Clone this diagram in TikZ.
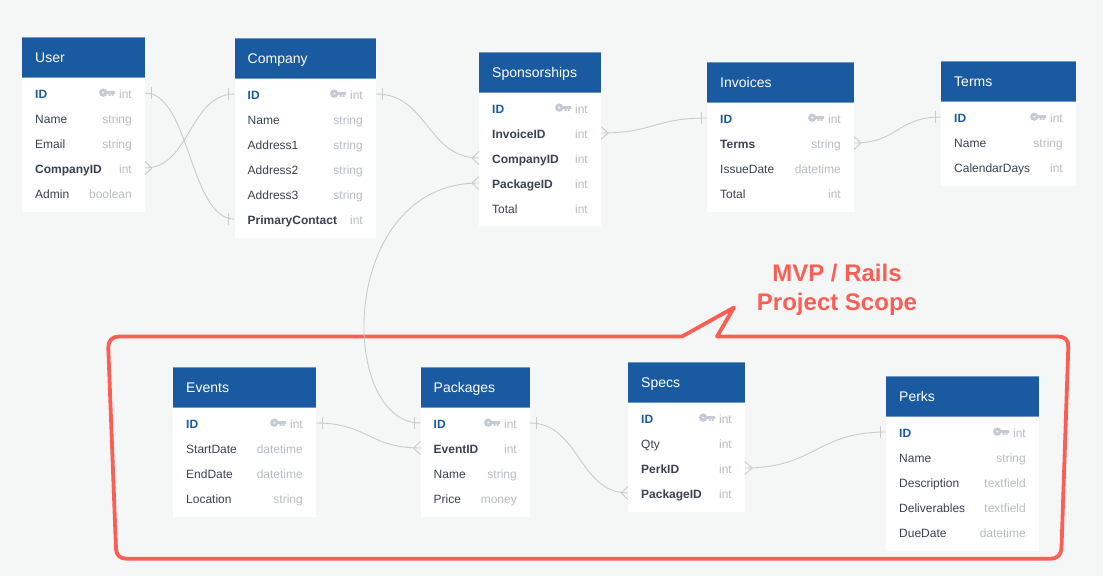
\documentclass[tikz,border=0pt]{standalone}
\usepackage{fontspec}
\setmainfont{Liberation Sans}
\definecolor{pagebg}{HTML}{F5F7F7}
\definecolor{headblue}{HTML}{1A5AA1}
\definecolor{headedge}{HTML}{6F97C6}
\definecolor{darktxt}{HTML}{3A4250}
\definecolor{typetxt}{HTML}{B8BCC2}
\definecolor{keygrey}{HTML}{C5CBD5}
\definecolor{linegrey}{HTML}{C8CBCB}
\definecolor{scopered}{HTML}{FB5E54}
\tikzset{
  x=1pt,y=-1pt,
  headbox/.style={fill=headblue,draw=none,inner sep=0,outer sep=0},
  bodybox/.style={fill=white,draw=none,inner sep=0,outer sep=0},
  rowbox/.style={draw=none,inner sep=0,outer sep=0},
  headtxt/.style={text=white,font=\fontsize{14}{16}\selectfont,anchor=base west,inner sep=0},
  plainname/.style={text=darktxt,font=\fontsize{12}{14}\selectfont,anchor=base west,inner sep=0},
  fkname/.style={text=darktxt,font=\fontsize{12}{14}\selectfont\bfseries,anchor=base west,inner sep=0},
  idname/.style={text=headblue,font=\fontsize{12}{14}\selectfont\bfseries,anchor=base west,inner sep=0},
  typename/.style={text=typetxt,font=\fontsize{12}{14}\selectfont,anchor=base east,inner sep=0},
  rel/.style={draw=linegrey,line width=0.9pt},
  scopeline/.style={draw=scopered,line width=3.8pt,line join=round},
  scopetxt/.style={text=scopered,font=\fontsize{24}{29}\selectfont\bfseries,align=center,inner sep=0},
}
% table: id, x0, x1, ytop, ybottom, title
\newcommand{\ertable}[6]{%
  \node[bodybox,minimum width=#3-#2,minimum height=#5-#4,anchor=north west] (#1) at (#2,#4) {};
  \node[headbox,minimum width=#3-#2,minimum height=40,anchor=north west] (#1head) at (#2,#4) {};
  \draw[headedge,line width=0.5pt] (#1head.north west) -- (#1head.north east) (#1head.south west) -- (#1head.south east);
  \node[headtxt] (#1title) at (#2+13,#4+25) {#6};
}
% row: row id, table id, y, name style, name, type
\newcommand{\errow}[6]{%
  \path (#2.west |- 0,#3) coordinate (#1tmp);
  \node[rowbox,anchor=west,minimum height=24,minimum width=0] (#1l) at (#1tmp) {};
  \path (#2.east |- 0,#3) coordinate (#1tmq);
  \node[rowbox,anchor=east,minimum height=24,minimum width=0] (#1r) at (#1tmq) {};
  \node[#4] (#1name) at ([xshift=13pt,yshift=-5pt]#1l.west) {#5};
  \node[typename] (#1type) at ([xshift=-13pt,yshift=-5pt]#1r.east) {#6};
}
\newcommand{\erkey}[1]{%
  \begin{scope}[shift={(#1type.west |- #1r.east)}]
    \fill[keygrey,even odd rule] (-15.7,-0.4) circle (4.2) (-15.7,-0.4) circle (1.2);
    \fill[keygrey] (-12.5,-2) -- (-3.8,-2) -- (-3.8,0.8) -- (-5.2,0.8) -- (-5.2,2.8) -- (-7.2,2.8) -- (-7.2,0.8) -- (-8.2,0.8) -- (-8.2,2.8) -- (-10.2,2.8) -- (-10.2,0.8) -- (-12.5,0.8) -- cycle;
  \end{scope}
}
% cardinality marks; #1 anchor, #2 direction sign (+1 leaves to the right)
\newcommand{\onebar}[2]{\draw[rel] ([xshift=#2*6pt,yshift=-6pt]#1) -- ([xshift=#2*6pt,yshift=6pt]#1);}
\newcommand{\crow}[2]{\draw[rel] ([yshift=-6.5pt]#1) -- ([xshift=#2*7pt]#1) -- ([yshift=6.5pt]#1);}
% connector between row anchors with a horizontal S-curve
\newcommand{\scurve}[3]{\draw[rel] (#1) .. controls +(#3,0) and +(-#3,0) .. (#2);}
\begin{document}
\begin{tikzpicture}
\useasboundingbox (0,0) rectangle (1103,576);
\fill[pagebg] (0,0) rectangle (1103,576);

% scope callout (under the tables)
\draw[scopeline]
  (682,336.5) -- (734,307.5) -- (717,336.5) -- (1058,336.5)
  .. controls (1065,336.5) and (1068.5,340) .. (1068.3,347)
  -- (1061.5,548) .. controls (1061.2,555) and (1057,558.8) .. (1050,558.8)
  -- (127,558.8) .. controls (120,558.8) and (116.3,555) .. (116,549)
  -- (108.3,348) .. controls (108,341) and (112,336.5) .. (119,336.5)
  -- cycle;
\node[scopetxt] (scopelabel) at (837,290) {MVP / Rails\\Project Scope};

% tables
\ertable{user}{22}{145}{37}{212}{User}
\errow{userid}{user}{93}{idname}{ID}{int}\erkey{userid}
\errow{username}{user}{118}{plainname}{Name}{string}
\errow{useremail}{user}{143}{plainname}{Email}{string}
\errow{usercomp}{user}{168}{fkname}{CompanyID}{int}
\errow{useradmin}{user}{193}{plainname}{Admin}{boolean}

\ertable{comp}{234.5}{376}{38}{238}{Company}
\errow{compid}{comp}{94}{idname}{ID}{int}\erkey{compid}
\errow{compname}{comp}{119}{plainname}{Name}{string}
\errow{compaa}{comp}{144}{plainname}{Address1}{string}
\errow{compab}{comp}{169}{plainname}{Address2}{string}
\errow{compac}{comp}{194}{plainname}{Address3}{string}
\errow{compcontact}{comp}{219}{fkname}{PrimaryContact}{int}

\ertable{spon}{479}{601}{52}{226}{Sponsorships}
\errow{sponid}{spon}{108}{idname}{ID}{int}\erkey{sponid}
\errow{sponinv}{spon}{133}{fkname}{InvoiceID}{int}
\errow{sponcomp}{spon}{158}{fkname}{CompanyID}{int}
\errow{sponpack}{spon}{183}{fkname}{PackageID}{int}
\errow{spontotal}{spon}{208}{plainname}{Total}{int}

\ertable{inv}{707}{854}{62}{212}{Invoices}
\errow{invid}{inv}{118}{idname}{ID}{int}\erkey{invid}
\errow{invterms}{inv}{143}{fkname}{Terms}{string}
\errow{invdate}{inv}{168}{plainname}{IssueDate}{datetime}
\errow{invtotal}{inv}{193}{plainname}{Total}{int}

\ertable{term}{941}{1076}{61}{186}{Terms}
\errow{termid}{term}{117}{idname}{ID}{int}\erkey{termid}
\errow{termname}{term}{142}{plainname}{Name}{string}
\errow{termdays}{term}{167}{plainname}{CalendarDays}{int}

\ertable{event}{173}{316}{367}{517}{Events}
\errow{eventid}{event}{423}{idname}{ID}{int}\erkey{eventid}
\errow{eventstart}{event}{448}{plainname}{StartDate}{datetime}
\errow{eventend}{event}{473}{plainname}{EndDate}{datetime}
\errow{eventloc}{event}{498}{plainname}{Location}{string}

\ertable{pack}{420.5}{530}{367}{517}{Packages}
\errow{packid}{pack}{423}{idname}{ID}{int}\erkey{packid}
\errow{packevent}{pack}{448}{fkname}{EventID}{int}
\errow{packname}{pack}{473}{plainname}{Name}{string}
\errow{packprice}{pack}{498}{plainname}{Price}{money}

\ertable{spec}{628}{745}{362}{512}{Specs}
\errow{specid}{spec}{418}{idname}{ID}{int}\erkey{specid}
\errow{specqty}{spec}{443}{plainname}{Qty}{int}
\errow{specperk}{spec}{468}{fkname}{PerkID}{int}
\errow{specpack}{spec}{493}{fkname}{PackageID}{int}

\ertable{perk}{886}{1039}{376}{551}{Perks}
\errow{perkid}{perk}{432}{idname}{ID}{int}\erkey{perkid}
\errow{perkname}{perk}{457}{plainname}{Name}{string}
\errow{perkdesc}{perk}{482}{plainname}{Description}{textfield}
\errow{perkdeliv}{perk}{507}{plainname}{Deliverables}{textfield}
\errow{perkdue}{perk}{532}{plainname}{DueDate}{datetime}

% connectors
\scurve{useridr.east}{compcontactl.west}{45}
\onebar{useridr.east}{1}\onebar{compcontactl.west}{-1}
\scurve{usercompr.east}{compidl.west}{45}
\crow{usercompr.east}{1}\onebar{compidl.west}{-1}
\scurve{compidr.east}{sponcompl.west}{52}
\onebar{compidr.east}{1}\crow{sponcompl.west}{-1}
\draw[rel] (sponpackl.west) .. controls +(-142,0) and +(-83,0) .. (packidl.west);
\crow{sponpackl.west}{-1}\onebar{packidl.west}{-1}
\scurve{sponinvr.east}{invidl.west}{53}
\crow{sponinvr.east}{1}\onebar{invidl.west}{-1}
\scurve{invtermsr.east}{termidl.west}{44}
\crow{invtermsr.east}{1}\onebar{termidl.west}{-1}
\scurve{eventidr.east}{packeventl.west}{52}
\onebar{eventidr.east}{1}\crow{packeventl.west}{-1}
\scurve{packidr.east}{specpackl.west}{49}
\onebar{packidr.east}{1}\crow{specpackl.west}{-1}
\scurve{specperkr.east}{perkidl.west}{70}
\crow{specperkr.east}{1}\onebar{perkidl.west}{-1}
\end{tikzpicture}
\end{document}
